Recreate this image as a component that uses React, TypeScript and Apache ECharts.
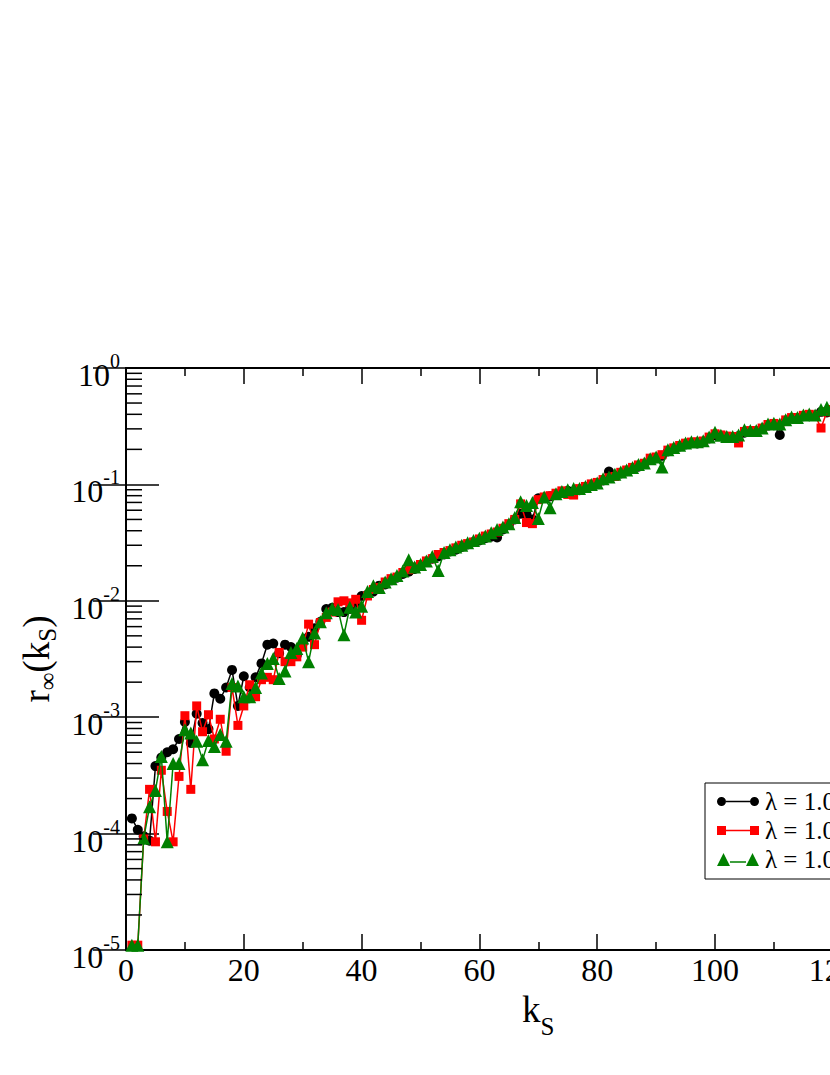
import React, { useEffect, useRef } from "react";
import * as echarts from "echarts";

const FONT = "Liberation Serif";

const legendNames = ["λ = 1.01", "λ = 1.03", "λ = 1.05"];
const seriesColors = ["#000000", "#ff0000", "#008000"];

const kS: number[] = Array.from({ length: 122 }, (_, i) => i + 1);

const blackVals = [
  1.35e-4, 1.08e-4, 9.5e-5, 8.7e-5, 3.8e-4, 4.5e-4, 5.0e-4, 5.3e-4, 6.5e-4, 9.1e-4,
  6.0e-4, 1.07e-3, 8.9e-4, 7.9e-4, 1.6e-3, 1.44e-3, 1.8e-3, 2.55e-3, 1.25e-3, 2.25e-3,
  1.8e-3, 2.2e-3, 2.9e-3, 4.2e-3, 4.3e-3, 3.55e-3, 4.2e-3, 4.0e-3, 3.4e-3, 4.3e-3,
  4.9e-3, 5.8e-3, 6.6e-3, 8.5e-3, 8.7e-3, 8.0e-3, 8.0e-3, 8.5e-3, 9.6e-3, 1.1e-2,
  1.13e-2, 1.2e-2, 1.35e-2, 1.38e-2, 1.5e-2, 1.58e-2, 1.7e-2, 1.78e-2, 1.88e-2, 2.0e-2,
  2.15e-2, 2.3e-2, 2.4e-2, 2.5e-2, 2.65e-2, 2.75e-2, 2.9e-2, 3.05e-2, 3.2e-2, 3.3e-2,
  3.45e-2, 3.55e-2, 3.5e-2, 4.1e-2, 4.5e-2, 5.0e-2, 5.6e-2, 5.5e-2, 5.0e-2, 7.6e-2,
  7.7e-2, 7.9e-2, 8.2e-2,
  8.6e-2, 8.8e-2, 8.5e-2, 8.9e-2, 9.4e-2, 9.8e-2, 1.02e-1, 1.08e-1, 1.29e-1, 1.18e-1,
  1.24e-1, 1.30e-1, 1.36e-1, 1.42e-1, 1.50e-1, 1.62e-1, 1.68e-1, 1.76e-1, 1.92e-1, 2.02e-1,
  2.12e-1, 2.20e-1, 2.27e-1, 2.25e-1, 2.30e-1, 2.48e-1, 2.64e-1, 2.60e-1, 2.55e-1, 2.54e-1,
  2.60e-1, 2.78e-1, 2.85e-1, 2.86e-1, 3.0e-1, 3.2e-1, 3.28e-1, 2.66e-1, 3.5e-1, 3.68e-1,
  3.7e-1, 3.85e-1, 3.95e-1, 3.9e-1, 4.2e-1, 4.15e-1, 4.3e-1, 4.4e-1, 4.5e-1,
];

const redVals = [
  1.1e-5, 1.1e-5, 9.0e-5, 2.4e-4, 8.5e-5, 3.5e-4, 1.55e-4, 8.5e-5, 3.1e-4, 1.03e-3,
  2.4e-4, 1.25e-3, 7.5e-4, 1.05e-3, 6.5e-4, 9.6e-4, 5.1e-4, 1.8e-3, 8.5e-4, 1.25e-3,
  1.9e-3, 1.5e-3, 2.1e-3, 2.2e-3, 2.1e-3, 3.6e-3, 3.0e-3, 3.0e-3, 3.3e-3, 4.0e-3,
  6.3e-3, 4.2e-3, 6.5e-3, 7.2e-3, 8.0e-3, 9.8e-3, 1.0e-2, 9.6e-3, 1.03e-2, 6.8e-3,
  1.1e-2, 1.25e-2, 1.3e-2, 1.45e-2, 1.55e-2, 1.6e-2, 1.75e-2, 1.85e-2, 1.95e-2, 2.05e-2,
  2.2e-2, 2.3e-2, 2.5e-2, 2.6e-2, 2.7e-2, 2.85e-2, 3.0e-2, 3.1e-2, 3.2e-2, 3.4e-2,
  3.6e-2, 3.75e-2, 3.9e-2, 4.2e-2, 4.6e-2, 5.0e-2, 6.8e-2, 4.7e-2, 4.6e-2, 7.4e-2,
  7.8e-2, 8.0e-2, 8.4e-2,
  8.8e-2, 8.2e-2, 8.1e-2, 9.2e-2, 9.6e-2, 1.01e-1, 1.04e-1, 1.10e-1, 1.14e-1, 1.17e-1,
  1.27e-1, 1.33e-1, 1.40e-1, 1.47e-1, 1.52e-1, 1.68e-1, 1.72e-1, 1.80e-1, 1.97e-1, 2.06e-1,
  2.16e-1, 2.26e-1, 2.31e-1, 2.32e-1, 2.36e-1, 2.55e-1, 2.72e-1, 2.66e-1, 2.6e-1, 2.58e-1,
  2.27e-1, 2.85e-1, 2.9e-1, 2.9e-1, 3.05e-1, 3.27e-1, 3.34e-1, 3.27e-1, 3.58e-1, 3.75e-1,
  3.75e-1, 3.92e-1, 4.0e-1, 3.92e-1, 3.05e-1, 4.2e-1, 4.4e-1, 4.5e-1, 4.6e-1,
];

const greenVals = [
  1.1e-5, 1.1e-5, 9.1e-5, 1.7e-4, 2.35e-4, 4.6e-4, 8.5e-5, 4.0e-4, 4.0e-4, 7.8e-4,
  7.3e-4, 6.2e-4, 4.3e-4, 6.3e-4, 5.6e-4, 7.1e-4, 6.2e-4, 1.95e-3, 1.85e-3, 1.5e-3,
  1.5e-3, 1.8e-3, 2.4e-3, 2.9e-3, 3.2e-3, 2.15e-3, 2.5e-3, 3.6e-3, 3.9e-3, 4.8e-3,
  3.0e-3, 5.3e-3, 6.6e-3, 7.9e-3, 8.6e-3, 8.4e-3, 5.1e-3, 8.8e-3, 8.0e-3, 9.0e-3,
  1.2e-2, 1.35e-2, 1.3e-2, 1.45e-2, 1.55e-2, 1.65e-2, 1.8e-2, 2.25e-2, 1.95e-2, 2.05e-2,
  2.2e-2, 2.4e-2, 1.82e-2, 2.6e-2, 2.75e-2, 2.9e-2, 3.0e-2, 3.15e-2, 3.3e-2, 3.45e-2,
  3.6e-2, 3.85e-2, 4.1e-2, 4.3e-2, 4.6e-2, 5.2e-2, 7.1e-2, 6.6e-2, 7.0e-2, 5.1e-2,
  7.8e-2, 6.3e-2, 8.3e-2,
  8.7e-2, 9.0e-2, 9.2e-2, 9.2e-2, 9.6e-2, 1.0e-1, 1.03e-1, 1.12e-1, 1.16e-1, 1.22e-1,
  1.28e-1, 1.33e-1, 1.40e-1, 1.48e-1, 1.53e-1, 1.66e-1, 1.72e-1, 1.41e-1, 1.98e-1, 2.07e-1,
  2.17e-1, 2.27e-1, 2.32e-1, 2.33e-1, 2.37e-1, 2.55e-1, 2.80e-1, 2.64e-1, 2.58e-1, 2.58e-1,
  2.66e-1, 2.95e-1, 2.9e-1, 2.9e-1, 3.05e-1, 3.3e-1, 3.36e-1, 3.3e-1, 3.6e-1, 3.8e-1,
  3.75e-1, 3.95e-1, 4.02e-1, 3.95e-1, 4.4e-1, 4.6e-1, 4.4e-1, 4.5e-1, 4.6e-1,
];

const xTicks = { min: 0, max: 140, interval: 20 };
const yRange = { min: 1e-5, max: 1 };
const minorMantissas = [2, 3, 4, 5, 6, 7, 8, 9];
const decades = [1e-5, 1e-4, 1e-3, 1e-2, 1e-1];

const ICON_CIRCLE =
  "path://M0,4.5 A4.5,4.5 0 1,1 9,4.5 A4.5,4.5 0 1,1 0,4.5 Z M9,3.8 L33,3.8 L33,5.2 L9,5.2 Z M33,4.5 A4.5,4.5 0 1,1 42,4.5 A4.5,4.5 0 1,1 33,4.5 Z";
const ICON_SQUARE =
  "path://M0,0 L9,0 L9,9 L0,9 Z M9,3.8 L33,3.8 L33,5.2 L9,5.2 Z M33,0 L42,0 L42,9 L33,9 Z";
const ICON_TRI =
  "path://M0,13 L6.5,0 L13,13 Z M13,8.3 L29,8.3 L29,9.7 L13,9.7 Z M29,13 L35.5,0 L42,13 Z";

export default function App() {
  const ref = useRef<HTMLDivElement>(null);

  useEffect(() => {
    if (!ref.current) return;
    const chart = echarts.init(ref.current, undefined, { renderer: "svg" });

    const minorTickValues: number[] = [];
    decades.forEach((d) => minorMantissas.forEach((m) => minorTickValues.push(m * d)));

    const mk = (vals: number[]) => kS.map((k, i) => [k, vals[i]]);

    const axisLineStyle = { color: "#000", width: 2 };
    const tickStyle = { color: "#000", width: 1.5 };

    const option: any = {
      animation: false,
      backgroundColor: "#fff",
      textStyle: { fontFamily: FONT },
      grid: { left: 126, top: 368, width: 824.6, height: 582 },
      legend: {
        orient: "vertical",
        left: 705,
        top: 783,
        padding: [6, 14, 7, 12],
        borderColor: "#000",
        borderWidth: 1,
        itemWidth: 42,
        itemHeight: 13,
        itemGap: 4,
        selectedMode: false,
        symbolKeepAspect: true,
        textStyle: { fontFamily: FONT, fontSize: 25, color: "#000", padding: [0, 0, 0, 1] },
        data: [
          { name: legendNames[0], icon: ICON_CIRCLE },
          { name: legendNames[1], icon: ICON_SQUARE },
          { name: legendNames[2], icon: ICON_TRI },
        ],
      },
      xAxis: [
        {
          type: "value",
          position: "bottom",
          min: xTicks.min,
          max: xTicks.max,
          interval: xTicks.interval,
          axisLine: { show: true, lineStyle: axisLineStyle },
          axisTick: { show: true, inside: true, length: 16, lineStyle: tickStyle },
          minorTick: { show: true, splitNumber: 2, length: 8, lineStyle: tickStyle },
          splitLine: { show: false },
          axisLabel: { color: "#000", fontFamily: FONT, fontSize: 32, margin: 4 },
          name: "{k|k}{s|S}",
          nameLocation: "middle",
          nameGap: 22,
          nameTextStyle: {
            color: "#000",
            fontFamily: FONT,
            rich: {
              k: { fontFamily: FONT, fontSize: 37, color: "#000" },
              s: { fontFamily: FONT, fontSize: 25, color: "#000", padding: [34, 0, 0, 0] },
            },
          },
        },
        {
          type: "value",
          position: "top",
          min: xTicks.min,
          max: xTicks.max,
          interval: xTicks.interval,
          axisLine: { show: true, lineStyle: axisLineStyle },
          axisTick: { show: true, inside: true, length: 16, lineStyle: tickStyle },
          minorTick: { show: true, splitNumber: 2, length: 8, lineStyle: tickStyle },
          splitLine: { show: false },
          axisLabel: { show: false },
        },
      ],
      yAxis: [
        {
          type: "log",
          logBase: 10,
          position: "left",
          min: yRange.min,
          max: yRange.max,
          axisLine: { show: true, lineStyle: axisLineStyle },
          axisTick: { show: true, inside: true, length: 33, lineStyle: tickStyle },
          splitLine: { show: false },
          axisLabel: {
            margin: 6,
            formatter: (v: number) => `{b|10}{e|${Math.round(Math.log10(v))}}`,
            rich: {
              b: { fontFamily: FONT, fontSize: 32, color: "#000", padding: [14, 0, 0, 0] },
              e: { fontFamily: FONT, fontSize: 20, color: "#000", padding: [0, 0, 14, 0] },
            },
          },
          name: "{r|r}{s|∞}{r|(k}{s|S}{r|)}",
          nameLocation: "middle",
          nameRotate: 90,
          nameGap: 62,
          nameTextStyle: {
            color: "#000",
            fontFamily: FONT,
            rich: {
              r: { fontFamily: FONT, fontSize: 37, color: "#000" },
              s: { fontFamily: FONT, fontSize: 25, color: "#000", padding: [22, 0, 0, 0] },
            },
          },
        },
        {
          type: "log",
          logBase: 10,
          position: "right",
          min: yRange.min,
          max: yRange.max,
          axisLine: { show: true, lineStyle: axisLineStyle },
          axisTick: { show: true, inside: true, length: 33, lineStyle: tickStyle },
          splitLine: { show: false },
          axisLabel: { show: false },
        },
      ],
      series: [
        {
          type: "custom",
          silent: true,
          xAxisIndex: 0,
          yAxisIndex: 0,
          clip: false,
          z: 5,
          data: minorTickValues.map((v) => [0, v]),
          renderItem: (_p: any, api: any) => {
            const a = api.coord([xTicks.min, api.value(1)]);
            const b = api.coord([xTicks.max, api.value(1)]);
            return {
              type: "group",
              children: [
                { type: "line", shape: { x1: a[0], y1: a[1], x2: a[0] + 16, y2: a[1] }, style: { stroke: "#000", lineWidth: 1.5 } },
                { type: "line", shape: { x1: b[0], y1: b[1], x2: b[0] - 16, y2: b[1] }, style: { stroke: "#000", lineWidth: 1.5 } },
              ],
            };
          },
        },
        {
          name: legendNames[0],
          type: "line",
          data: mk(blackVals),
          symbol: "circle",
          symbolSize: 10,
          color: seriesColors[0],
          lineStyle: { color: seriesColors[0], width: 1.5 },
          itemStyle: { color: seriesColors[0] },
          z: 2,
        },
        {
          name: legendNames[1],
          type: "line",
          data: mk(redVals),
          symbol: "rect",
          symbolSize: 9,
          color: seriesColors[1],
          lineStyle: { color: seriesColors[1], width: 1.5 },
          itemStyle: { color: seriesColors[1] },
          z: 3,
        },
        {
          name: legendNames[2],
          type: "line",
          data: mk(greenVals),
          symbol: "triangle",
          symbolSize: 13,
          color: seriesColors[2],
          lineStyle: { color: seriesColors[2], width: 1.5 },
          itemStyle: { color: seriesColors[2] },
          z: 4,
        },
      ],
    };

    chart.setOption(option);
    return () => chart.dispose();
  }, []);

  return (
    <div style={{ position: "fixed", left: 0, top: 0, width: 830, height: 1075, overflow: "hidden", background: "#fff" }}>
      <div ref={ref} style={{ width: 1030, height: 1075 }} />
    </div>
  );
}
